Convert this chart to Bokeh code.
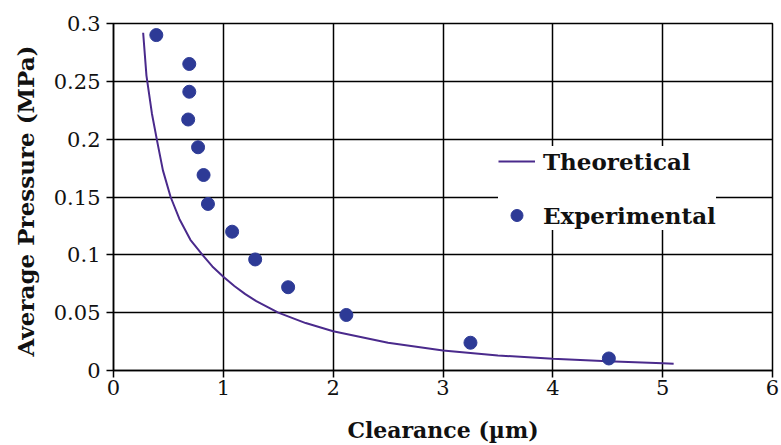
from bokeh.plotting import figure
from bokeh.models import Range1d, FixedTicker, Legend, LegendItem
from bokeh.embed import file_html
from bokeh.resources import INLINE

# Data
th_x = [0.27, 0.30, 0.35, 0.40, 0.45, 0.52, 0.60, 0.70, 0.81, 0.90, 1.0, 1.1, 1.2,
        1.3, 1.4, 1.5, 1.75, 2.0, 2.5, 3.0, 3.5, 4.0, 4.5, 5.0, 5.1]
th_y = [0.292, 0.255, 0.222, 0.197, 0.173, 0.150, 0.131, 0.113, 0.100, 0.090, 0.081,
        0.073, 0.066, 0.060, 0.055, 0.050, 0.041, 0.034, 0.024, 0.0173, 0.013, 0.0101,
        0.0080, 0.0063, 0.0059]

exp_x = [0.39, 0.69, 0.69, 0.68, 0.77, 0.82, 0.86, 1.08, 1.29, 1.59, 2.12, 3.25, 4.51]
exp_y = [0.290, 0.265, 0.241, 0.217, 0.193, 0.169, 0.144, 0.120, 0.096, 0.072, 0.048,
         0.024, 0.0104]

x_ticks = [0, 1, 2, 3, 4, 5, 6]
x_labels = ["0", "1", "2", "3", "4", "5", "6"]
y_ticks = [0, 0.05, 0.1, 0.15, 0.2, 0.25, 0.3]
y_labels = ["0", "0.05", "0.1", "0.15", "0.2", "0.25", "0.3"]

FONT = "DejaVu Serif"
LINE_COLOR = "#4a2a8c"
DOT_COLOR = "#2d3a96"

p = figure(width=781, height=445, output_backend="svg", toolbar_location=None,
           x_range=Range1d(0, 6), y_range=Range1d(0, 0.3),
           min_border_left=113, min_border_right=9, min_border_top=23,
           min_border_bottom=75)

p.background_fill_color = "white"
p.border_fill_color = "white"
p.outline_line_color = "black"
p.outline_line_width = 1.5

r_line = p.line(th_x, th_y, line_color=LINE_COLOR, line_width=2)
r_dots = p.scatter(exp_x, exp_y, size=13, fill_color=DOT_COLOR, line_color=DOT_COLOR)

for ax, ticks, labels in ((p.xaxis[0], x_ticks, x_labels), (p.yaxis[0], y_ticks, y_labels)):
    ax.ticker = FixedTicker(ticks=ticks)
    ax.major_label_overrides = {t: l for t, l in zip(ticks, labels)}
    ax.minor_tick_line_color = None
    ax.major_tick_in = 0
    ax.major_tick_out = 7
    ax.major_tick_line_color = "black"
    ax.major_tick_line_width = 1.5
    ax.axis_line_color = "black"
    ax.axis_line_width = 1.5
    ax.major_label_text_font = FONT
    ax.major_label_text_font_size = "21px"
    ax.major_label_text_color = "#111111"
    ax.axis_label_text_font = FONT
    ax.axis_label_text_font_style = "bold"
    ax.axis_label_text_color = "#111111"

p.xaxis.axis_label = "Clearance (\u00b5m)"
p.yaxis.axis_label = "Average Pressure  (MPa)"
p.xaxis.axis_label_text_font_size = "22px"
p.yaxis.axis_label_text_font_size = "23px"
p.xaxis.major_label_standoff = 2
p.yaxis.major_label_standoff = 6
p.xaxis.axis_label_standoff = 19
p.yaxis.axis_label_standoff = 12

for g, ticks in ((p.xgrid[0], x_ticks), (p.ygrid[0], y_ticks)):
    g.ticker = FixedTicker(ticks=ticks)
    g.grid_line_color = "black"
    g.grid_line_width = 1.5

legend = Legend(items=[LegendItem(label="Theoretical", renderers=[r_line]),
                       LegendItem(label="Experimental", renderers=[r_dots])],
                location=(385, 140))
legend.label_text_font = FONT
legend.label_text_font_style = "bold"
legend.label_text_font_size = "23px"
legend.label_text_color = "#111111"
legend.glyph_width = 37
legend.glyph_height = 30
legend.label_height = 30
legend.label_standoff = 8
legend.spacing = 24
legend.padding = 14
legend.margin = 0
legend.border_line_color = None
legend.background_fill_color = "white"
legend.background_fill_alpha = 1.0
p.add_layout(legend, "center")

open("out.html", "w").write(file_html(p, INLINE))
